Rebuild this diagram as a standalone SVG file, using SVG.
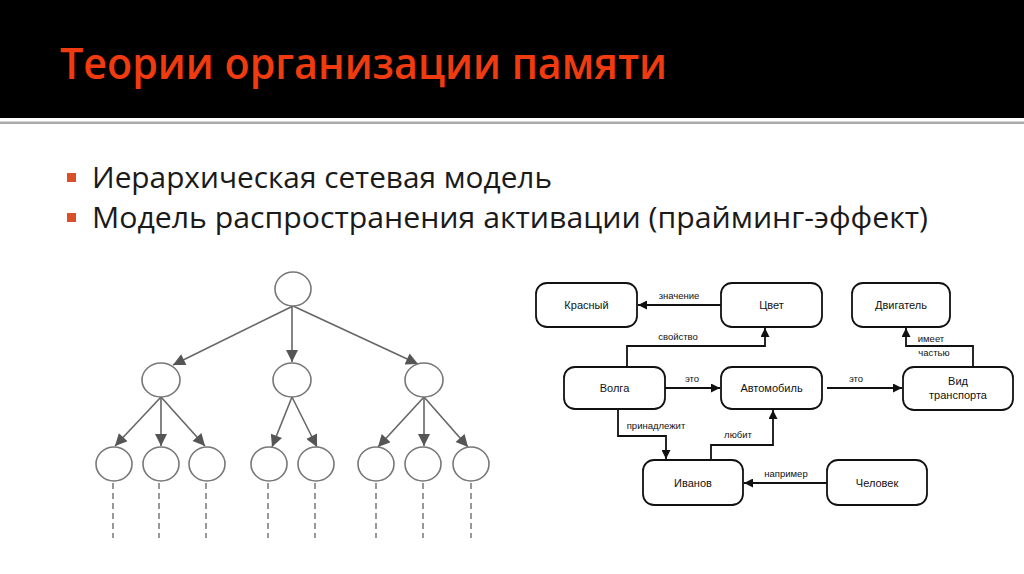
<svg xmlns="http://www.w3.org/2000/svg" width="1024" height="574" viewBox="0 0 1024 574">
<style>
.title{font-family:"Open Sans","Liberation Sans",sans-serif;font-size:43px;fill:#ef3b0f;font-weight:600}
.bul{font-family:"Open Sans","Liberation Sans",sans-serif;font-size:29px;fill:#1a1a1a}
.c{fill:#fff;stroke:#777;stroke-width:1.6}
.t{stroke:#666;stroke-width:1.6;fill:none}
.d{stroke:#777;stroke-width:1.5;stroke-dasharray:6,4;fill:none}
.box{fill:#fff;stroke:#111;stroke-width:1.8}
.bt{font-family:"Liberation Sans",Arial,sans-serif;font-size:11px;fill:#111;text-anchor:middle}
.lt{font-family:"Liberation Sans",Arial,sans-serif;font-size:9.5px;fill:#111;text-anchor:middle}
.k{stroke:#111;stroke-width:1.8;fill:none}
</style>
<defs>
<marker id="ta" viewBox="0 0 10 10" refX="10" refY="5" markerWidth="13" markerHeight="12" markerUnits="userSpaceOnUse" orient="auto"><path d="M0,0 L10,5 L0,10 z" fill="#555"/></marker>
<marker id="ka" viewBox="0 0 10 10" refX="10" refY="5" markerWidth="9" markerHeight="9" markerUnits="userSpaceOnUse" orient="auto"><path d="M0,0 L10,5 L0,10 z" fill="#111"/></marker>
</defs>
<rect x="0" y="0" width="1024" height="118" fill="#000"/>
<rect x="0" y="121.5" width="1024" height="2.5" fill="#aaa"/>
<text class="title" x="60" y="79" textLength="607" lengthAdjust="spacingAndGlyphs">Теории организации памяти</text>
<rect x="67" y="173" width="9" height="9" fill="#d9502a"/>
<text class="bul" x="92" y="188" textLength="460" lengthAdjust="spacingAndGlyphs">Иерархическая сетевая модель</text>
<rect x="67" y="213" width="9" height="9" fill="#d9502a"/>
<text class="bul" x="92" y="228" textLength="836" lengthAdjust="spacingAndGlyphs">Модель распространения активации (прайминг-эффект)</text>

<g id="tree-connectors">
<line class="t" x1="293" y1="306" x2="173" y2="365" marker-end="url(#ta)"/>
<line class="t" x1="292" y1="306" x2="292" y2="362" marker-end="url(#ta)"/>
<line class="t" x1="293" y1="306" x2="418" y2="364" marker-end="url(#ta)"/>
<line class="t" x1="161" y1="397" x2="115" y2="446" marker-end="url(#ta)"/>
<line class="t" x1="161" y1="397" x2="161" y2="446" marker-end="url(#ta)"/>
<line class="t" x1="161" y1="397" x2="205" y2="446" marker-end="url(#ta)"/>
<line class="t" x1="292" y1="397" x2="272" y2="447" marker-end="url(#ta)"/>
<line class="t" x1="292" y1="397" x2="317" y2="447" marker-end="url(#ta)"/>
<line class="t" x1="424" y1="397" x2="378" y2="447" marker-end="url(#ta)"/>
<line class="t" x1="424" y1="397" x2="424" y2="446" marker-end="url(#ta)"/>
<line class="t" x1="424" y1="397" x2="468" y2="447" marker-end="url(#ta)"/>
<line class="d" x1="113" y1="483" x2="113" y2="538"/>
<line class="d" x1="159" y1="483" x2="159" y2="538"/>
<line class="d" x1="206" y1="483" x2="206" y2="538"/>
<line class="d" x1="268" y1="483" x2="268" y2="538"/>
<line class="d" x1="315" y1="483" x2="315" y2="538"/>
<line class="d" x1="376" y1="483" x2="376" y2="538"/>
<line class="d" x1="423" y1="483" x2="423" y2="538"/>
<line class="d" x1="471" y1="483" x2="471" y2="538"/>
</g>
<g id="root"><ellipse class="c" cx="293" cy="289" rx="18" ry="17"/></g>
<g id="n2a"><ellipse class="c" cx="161" cy="380" rx="19" ry="17"/></g>
<g id="n2b"><ellipse class="c" cx="292" cy="380" rx="19" ry="17"/></g>
<g id="n2c"><ellipse class="c" cx="424" cy="380" rx="19" ry="17"/></g>
<g id="n3a"><ellipse class="c" cx="114" cy="464" rx="18" ry="17"/></g>
<g id="n3b"><ellipse class="c" cx="161" cy="464" rx="18" ry="17"/></g>
<g id="n3c"><ellipse class="c" cx="207" cy="464" rx="18" ry="17"/></g>
<g id="n3d"><ellipse class="c" cx="269" cy="464" rx="18" ry="17"/></g>
<g id="n3e"><ellipse class="c" cx="316" cy="464" rx="18" ry="17"/></g>
<g id="n3f"><ellipse class="c" cx="376" cy="464" rx="18" ry="17"/></g>
<g id="n3g"><ellipse class="c" cx="423" cy="464" rx="18" ry="17"/></g>
<g id="n3h"><ellipse class="c" cx="471" cy="464" rx="18" ry="17"/></g>

<g id="net-connectors">
<line class="k" x1="721" y1="305" x2="638" y2="305" marker-end="url(#ka)"/>
<text class="lt" x="679" y="299">значение</text>
<polyline class="k" points="627,367 627,346 765,346 765,328" marker-end="url(#ka)"/>
<text class="lt" x="678" y="340">свойство</text>
<line class="k" x1="665" y1="388" x2="720" y2="388" marker-end="url(#ka)"/>
<text class="lt" x="692" y="382">это</text>
<line class="k" x1="827" y1="388" x2="902" y2="388" marker-end="url(#ka)"/>
<text class="lt" x="856" y="382">это</text>
<polyline class="k" points="973,367 973,346 906,346 906,328" marker-end="url(#ka)"/>
<text class="lt" x="931" y="342">имеет</text>
<text class="lt" x="934" y="356">частью</text>
<polyline class="k" points="618,409 618,436 666,436 666,459" marker-end="url(#ka)"/>
<text class="lt" x="656" y="429">принадлежит</text>
<polyline class="k" points="711,460 711,445 773,445 773,410" marker-end="url(#ka)"/>
<text class="lt" x="738" y="438">любит</text>
<line class="k" x1="827" y1="483" x2="744" y2="483" marker-end="url(#ka)"/>
<text class="lt" x="786" y="477">например</text>
</g>
<g id="krasny"><rect class="box" x="536" y="283" width="101" height="44" rx="11"/><text class="bt" x="586.5" y="309">Красный</text></g>
<g id="cvet"><rect class="box" x="721" y="283" width="101" height="44" rx="11"/><text class="bt" x="771.5" y="309">Цвет</text></g>
<g id="dvigatel"><rect class="box" x="852" y="283" width="98" height="44" rx="11"/><text class="bt" x="901" y="309">Двигатель</text></g>
<g id="volga"><rect class="box" x="564" y="367" width="101" height="42" rx="11"/><text class="bt" x="614.5" y="392">Волга</text></g>
<g id="avto"><rect class="box" x="721" y="367" width="101" height="42" rx="11"/><text class="bt" x="771.5" y="392">Автомобиль</text></g>
<g id="vid"><rect class="box" x="903" y="367" width="110" height="43" rx="11"/><text class="bt" x="958" y="385">Вид</text><text class="bt" x="958" y="399">транспорта</text></g>
<g id="ivanov"><rect class="box" x="643" y="460" width="100" height="45" rx="11"/><text class="bt" x="693" y="487">Иванов</text></g>
<g id="chelovek"><rect class="box" x="827" y="460" width="100" height="45" rx="11"/><text class="bt" x="877" y="487">Человек</text></g>
</svg>
